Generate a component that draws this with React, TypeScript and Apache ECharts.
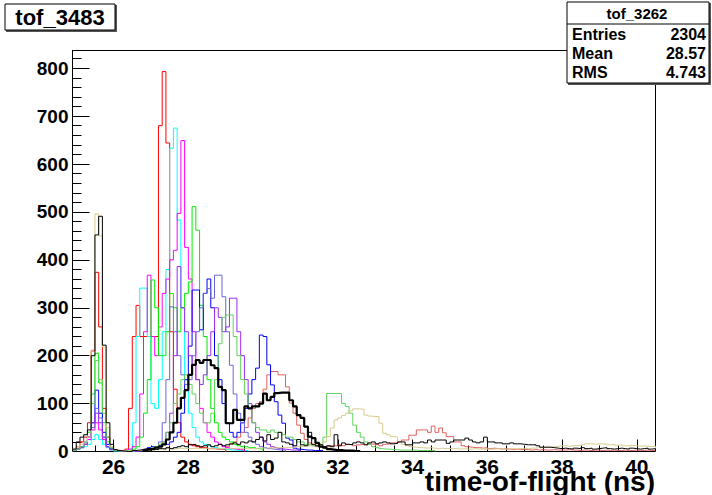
import React, { useEffect, useRef } from "react";
import * as echarts from "echarts";

// ---- axis setup ----
const X_MIN = 24.9;
const X_MAX = 40.5;
const Y_MAX = 837;
const BIN_WIDTH = 0.1;
const xTickValues = [26, 28, 30, 32, 34, 36, 38, 40];
const xMinorValues = [25, 25.5, 26.5, 27, 27.5, 28.5, 29, 29.5, 30.5, 31, 31.5, 32.5, 33, 33.5, 34.5, 35, 35.5, 36.5, 37, 37.5, 38.5, 39, 39.5, 40.5];
const yTickValues = [0, 100, 200, 300, 400, 500, 600, 700, 800];
const yMinorValues = [20, 40, 60, 80, 120, 140, 160, 180, 220, 240, 260, 280, 320, 340, 360, 380, 420, 440, 460, 480, 520, 540, 560, 580, 620, 640, 660, 680, 720, 740, 760, 780, 820];

// ---- histogram contents (bin width 0.1 ns) ----
const blackStart = 24.9;
const blackVals = [
  5, 20, 30, 35, 45, 200, 452, 491, 222, 60, 15, 4,
  2, 1, 0, 0, 2, 3, 4, 5, 3,
  5, 4, 6, 5, 8, 6, 8, 10, 12, 10,
  14, 15, 12, 10, 12, 14, 10, 12, 15, 12,
  14, 16, 18, 15, 20, 18, 22, 20, 25, 30,
  22, 35, 25, 28, 40, 20, 18, 15, 12, 25,
  14, 12, 40, 15, 12, 14, 10, 12, 10, 35,
  12, 18, 15, 14, 18, 20, 18, 14, 18, 20,
  16, 18, 20, 18, 16, 17, 20, 20, 14, 14,
  18, 18, 20, 18, 24, 20, 24, 24, 24, 17,
  20, 24, 24, 24, 28, 24, 20, 18, 20, 30,
  20, 20, 18, 18, 16, 16, 18, 16, 16, 15,
  14, 14, 14, 12, 9, 9, 9, 8, 7, 6,
  7, 6, 5, 7, 6, 8, 6, 7, 5, 6,
  7, 8, 6, 5, 6, 7, 6, 5, 7, 6,
  5, 6, 7, 5, 6,
];

const khakiStart = 24.9;
const khakiVals = [
  5, 10, 15, 20, 30, 212, 496, 450, 218, 50, 10, 4,
  2, 2, 1, 1, 2, 2, 3, 3, 4,
  4, 5, 5, 6, 6, 5, 6, 7, 6, 6,
  6, 7, 6, 6, 7, 6, 6, 7, 6, 6,
  6, 6, 7, 6, 6, 7, 6, 6, 7, 7,
  7, 8, 7, 8, 8, 9, 8, 9, 10, 10,
  10, 12, 12, 14, 15, 15, 20, 31, 49, 66,
  70, 75, 80, 85, 89, 89, 88, 76, 74, 73,
  73, 59, 38, 35, 31, 30, 20, 15, 12, 10,
  9, 8, 8, 7, 8, 7, 6, 7, 6, 6,
  6, 6, 5, 6, 5, 5, 6, 5, 5, 5,
  5, 5, 6, 5, 5, 5, 6, 5, 6, 6,
  6, 7, 7, 8, 8, 9, 9, 10, 11, 12,
  12, 11, 12, 13, 12, 14, 16, 16, 15, 16,
  16, 15, 14, 15, 13, 14, 12, 12, 13, 12,
  11, 12, 11, 10, 11,
];

const redStart = 24.9;
const redVals = [
  3, 10, 20, 30, 60, 210, 374, 260, 90, 30, 8, 3,
  2, 2, 5, 90, 240, 305, 240, 240, 240,
  240, 240, 680, 793, 644, 250, 130, 60, 30, 20,
  15, 12, 10, 8, 8, 6, 6, 5, 5, 4,
];

const salmonStart = 29.0;
const salmonVals = [
  10, 15, 20, 30, 40, 50, 70, 90, 100, 104,
  130, 160, 167, 167, 160, 160, 135, 101, 80, 55,
  38, 25, 18, 12, 10, 9, 8, 10, 12, 12,
  14, 12, 15, 14, 12, 14, 15, 14, 16, 15,
  14, 12, 15, 16, 18, 18, 20, 24, 24, 34,
  34, 45, 45, 45, 40, 53, 40, 49, 39, 31,
  31, 20, 20, 12, 10, 9, 8, 8, 7, 8,
  6, 7, 6, 5, 6, 5, 4, 5, 4, 4,
  4, 3, 4, 3, 4, 3, 3, 4, 3, 3,
  3, 4, 3, 3, 2, 3, 3, 2, 3, 3,
  2, 3, 2, 3, 2, 2, 3, 2, 2, 3,
  2, 2, 3, 2, 2,
];

const cyanStart = 24.9;
const cyanVals = [
  2, 5, 8, 10, 15, 25, 35, 25, 15, 8, 3, 1,
  0, 0, 1, 5, 60, 240, 341, 341, 240,
  100, 90, 150, 250, 380, 633, 675, 483, 300, 150,
  80, 50, 30, 20, 15, 12, 10, 8, 6, 5,
  4, 3, 3, 2, 2, 2,
];

const magentaStart = 24.9;
const magentaVals = [
  2, 5, 10, 15, 25, 45, 60, 45, 25, 10, 4, 2,
  1, 1, 2, 5, 10, 30, 120, 250, 368,
  240, 200, 260, 330, 360, 400, 420, 497, 649, 426,
  360, 250, 150, 90, 60, 40, 30, 20, 15, 10,
  8, 6, 5, 4, 3,
];

const greenStart = 24.9;
const greenVals = [
  2, 5, 10, 20, 40, 120, 205, 143, 60, 20, 6, 2,
  1, 1, 1, 2, 5, 10, 30, 80, 150,
  358, 300, 200, 200, 250, 330, 300, 250, 300, 330,
  354, 511, 462, 305, 240, 150, 90, 60, 40, 30,
  25, 20, 15, 12, 10, 10, 8, 8, 6, 5,
];

const blueStart = 24.9;
const blueVals = [
  2, 5, 10, 20, 30, 60, 128, 80, 40, 15, 5, 2,
  1, 0, 0, 1, 1, 2, 3, 5, 8,
  10, 10, 12, 15, 15, 20, 30, 40, 80, 150,
  220, 337, 337, 254, 330, 360, 300, 200, 150, 100,
  60, 40, 30, 40, 60, 90, 120, 150, 174, 243,
  240, 181, 139, 104, 76, 59, 28, 24, 7, 5,
  4, 3, 3, 2, 2, 2,
];

const slateStart = 24.9;
const slateVals = [
  2, 5, 8, 15, 30, 50, 90, 70, 30, 10, 4, 2,
  1, 0, 0, 0, 1, 1, 2, 3, 5,
  8, 10, 20, 60, 150, 302, 250, 200, 160, 140,
  150, 200, 250, 300, 330, 340, 320, 368, 368, 323,
  250, 180, 120, 80, 60, 40, 30, 20, 15, 10,
  8, 6, 5, 4, 3, 3,
];

const violetStart = 24.9;
const violetVals = [
  2, 5, 8, 15, 30, 60, 80, 60, 30, 10, 4, 2,
  1, 0, 0, 0, 1, 1, 2, 3, 4,
  5, 8, 10, 20, 40, 80, 200, 386, 300, 250,
  200, 180, 150, 140, 160, 200, 250, 300, 280, 250,
  260, 320, 320, 250, 200, 150, 100, 60, 40, 30,
  20, 15, 10, 8, 6, 5, 4, 3, 3, 2,
];

const lightGreenStart = 24.9;
const lightGreenVals = [
  2, 5, 10, 20, 40, 100, 190, 150, 80, 30, 8, 2,
  1, 1, 1, 1, 2, 2, 3, 4, 5,
  8, 10, 15, 20, 40, 60, 100, 120, 150, 160,
  140, 120, 100, 80, 60, 60, 80, 150, 225, 280,
  285, 285, 240, 200, 150, 120, 90, 60, 50, 45,
  45, 40, 45, 40, 40, 35, 30, 30, 25, 20,
  20, 15, 15, 12, 12, 15, 30, 121, 121, 121,
  121, 100, 94, 80, 55, 40, 30, 20, 15, 10,
  8, 6, 5, 5, 4, 4, 3, 3, 3, 3,
  3, 2, 2, 2, 2, 2,
];

const thickStart = 26.8;
const thickVals = [
  2, 5,
  5, 8, 10, 15, 25, 40, 60, 90, 112, 128,
  160, 181, 191, 185, 191, 191, 180, 174, 135, 128,
  59, 59, 87, 66, 66, 94, 90, 94, 94, 100,
  121, 107, 114, 122, 123, 123, 123, 107, 94, 76,
  70, 52, 31, 28, 18, 10, 8, 5, 4, 3,
  3, 2, 2, 2, 1, 1,
];

const statsName = "tof_3262";
const statsRows = [
  ["Entries", "2304"],
  ["Mean", "28.57"],
  ["RMS", "4.743"],
];
const titleText = "tof_3483";
const xTitle = "time-of-flight (ns)";

const FONT = '"Liberation Sans", Arial, Helvetica, sans-serif';

function histPoints(start: number, vals: number[]): [number, number][] {
  const pts: [number, number][] = [[start, 0]];
  vals.forEach((v, i) => {
    const lo = +(start + i * BIN_WIDTH).toFixed(4);
    const hi = +(start + (i + 1) * BIN_WIDTH).toFixed(4);
    pts.push([lo, v], [hi, v]);
  });
  pts.push([+(start + vals.length * BIN_WIDTH).toFixed(4), 0]);
  return pts;
}

const seriesDefs: { name: string; start: number; vals: number[]; color: string; width: number }[] = [
  { name: "red", start: redStart, vals: redVals, color: "#ff0000", width: 1 },
  { name: "salmon", start: salmonStart, vals: salmonVals, color: "#e0605e", width: 1 },
  { name: "cyan", start: cyanStart, vals: cyanVals, color: "#00ffff", width: 1 },
  { name: "magenta", start: magentaStart, vals: magentaVals, color: "#ff00ff", width: 1 },
  { name: "green", start: greenStart, vals: greenVals, color: "#00ee00", width: 1 },
  { name: "blue", start: blueStart, vals: blueVals, color: "#0000ff", width: 1 },
  { name: "slate", start: slateStart, vals: slateVals, color: "#6a66dd", width: 1 },
  { name: "violet", start: violetStart, vals: violetVals, color: "#9a2cf5", width: 1 },
  { name: "lightgreen", start: lightGreenStart, vals: lightGreenVals, color: "#5fd45a", width: 1 },
  { name: "khaki", start: khakiStart, vals: khakiVals, color: "#d6cb8e", width: 1 },
  { name: "black", start: blackStart, vals: blackVals, color: "#000000", width: 1 },
  { name: "tof_3262", start: thickStart, vals: thickVals, color: "#000000", width: 2.2 },
];

export default function App() {
  const ref = useRef<HTMLDivElement>(null);
  useEffect(() => {
    if (!ref.current) return;
    const chart = echarts.init(ref.current, undefined, { renderer: "svg" });
    const axisCommon = {
      type: "value" as const,
      splitLine: { show: false },
    };
    const option: any = {
      animation: false,
      backgroundColor: "#ffffff",
      grid: {
        left: 72.5,
        right: 56.5,
        top: 50.5,
        bottom: 43.5,
        show: true,
        borderColor: "#000",
        borderWidth: 1,
        backgroundColor: "transparent",
      },
      xAxis: [
        {
          ...axisCommon,
          position: "bottom",
          min: X_MIN,
          max: X_MAX,
          axisLine: { show: true, lineStyle: { color: "#000", width: 1 } },
          axisTick: { show: true, inside: true, length: 12, customValues: xTickValues, lineStyle: { color: "#000" } },
          axisLabel: {
            customValues: xTickValues,
            color: "#000",
            fontFamily: FONT,
            fontWeight: "bold",
            fontSize: 21,
            margin: 4,
          },
        },
        {
          ...axisCommon,
          position: "bottom",
          offset: 0,
          min: X_MIN,
          max: X_MAX,
          axisLine: { show: false },
          axisTick: { show: true, inside: true, length: 6, customValues: xMinorValues, lineStyle: { color: "#000" } },
          axisLabel: { show: false, customValues: xMinorValues },
        },
      ],
      yAxis: [
        {
          ...axisCommon,
          position: "left",
          min: 0,
          max: Y_MAX,
          axisLine: { show: true, lineStyle: { color: "#000", width: 1 } },
          axisTick: { show: true, inside: true, length: 17, customValues: yTickValues, lineStyle: { color: "#000" } },
          axisLabel: {
            customValues: yTickValues,
            color: "#000",
            fontFamily: FONT,
            fontWeight: "bold",
            fontSize: 19,
            margin: 4,
          },
        },
        {
          ...axisCommon,
          position: "left",
          offset: 0,
          min: 0,
          max: Y_MAX,
          axisLine: { show: false },
          axisTick: { show: true, inside: true, length: 9, customValues: yMinorValues, lineStyle: { color: "#000" } },
          axisLabel: { show: false, customValues: yMinorValues },
        },
      ],
      series: seriesDefs.map((s) => ({
        name: s.name,
        type: "line",
        xAxisIndex: 0,
        yAxisIndex: 0,
        data: histPoints(s.start, s.vals),
        showSymbol: false,
        symbol: "none",
        lineStyle: { color: s.color, width: s.width },
        itemStyle: { color: s.color },
        silent: true,
      })),
      graphic: [
        // title box
        { type: "rect", z: 100, shape: { x: 6, y: 5, width: 111, height: 27 }, style: { fill: "#555" }, silent: true },
        { type: "rect", z: 101, shape: { x: 5, y: 4, width: 110, height: 26 }, style: { fill: "#fff", stroke: "#000", lineWidth: 1 }, silent: true },
        {
          type: "text",
          z: 102,
          x: 60,
          y: 17.5,
          style: { text: titleText, fill: "#000", font: `bold 22px ${FONT}`, textAlign: "center", textVerticalAlign: "middle" },
          silent: true,
        },
        // stats box
        { type: "rect", z: 100, shape: { x: 568, y: 3, width: 143, height: 82 }, style: { fill: "#555" }, silent: true },
        { type: "rect", z: 101, shape: { x: 567, y: 2, width: 142, height: 81 }, style: { fill: "#fff", stroke: "#000", lineWidth: 1 }, silent: true },
        { type: "line", z: 102, shape: { x1: 567, y1: 24, x2: 709, y2: 24 }, style: { stroke: "#000", lineWidth: 1 }, silent: true },
        {
          type: "text",
          z: 102,
          x: 637,
          y: 13.5,
          style: { text: statsName, fill: "#000", font: `bold 15px ${FONT}`, textAlign: "center", textVerticalAlign: "middle" },
          silent: true,
        },
        ...statsRows.flatMap((r, i) => [
          {
            type: "text",
            z: 102,
            x: 572,
            y: 34.5 + i * 19,
            style: { text: r[0], fill: "#000", font: `bold 16px ${FONT}`, textAlign: "left", textVerticalAlign: "middle" },
            silent: true,
          },
          {
            type: "text",
            z: 102,
            x: 706,
            y: 34.5 + i * 19,
            style: { text: r[1], fill: "#000", font: `bold 16px ${FONT}`, textAlign: "right", textVerticalAlign: "middle" },
            silent: true,
          },
        ]),
        // x axis title
        {
          type: "text",
          z: 102,
          x: 655,
          y: 481,
          style: { text: xTitle, fill: "#000", font: `bold 28px ${FONT}`, textAlign: "right", textVerticalAlign: "middle" },
          silent: true,
        },
      ],
    };
    chart.setOption(option);
    return () => chart.dispose();
  }, []);
  return (
    <div
      ref={ref}
      style={{ position: "fixed", left: 0, top: 0, width: 712, height: 495, background: "#fff" }}
    />
  );
}
